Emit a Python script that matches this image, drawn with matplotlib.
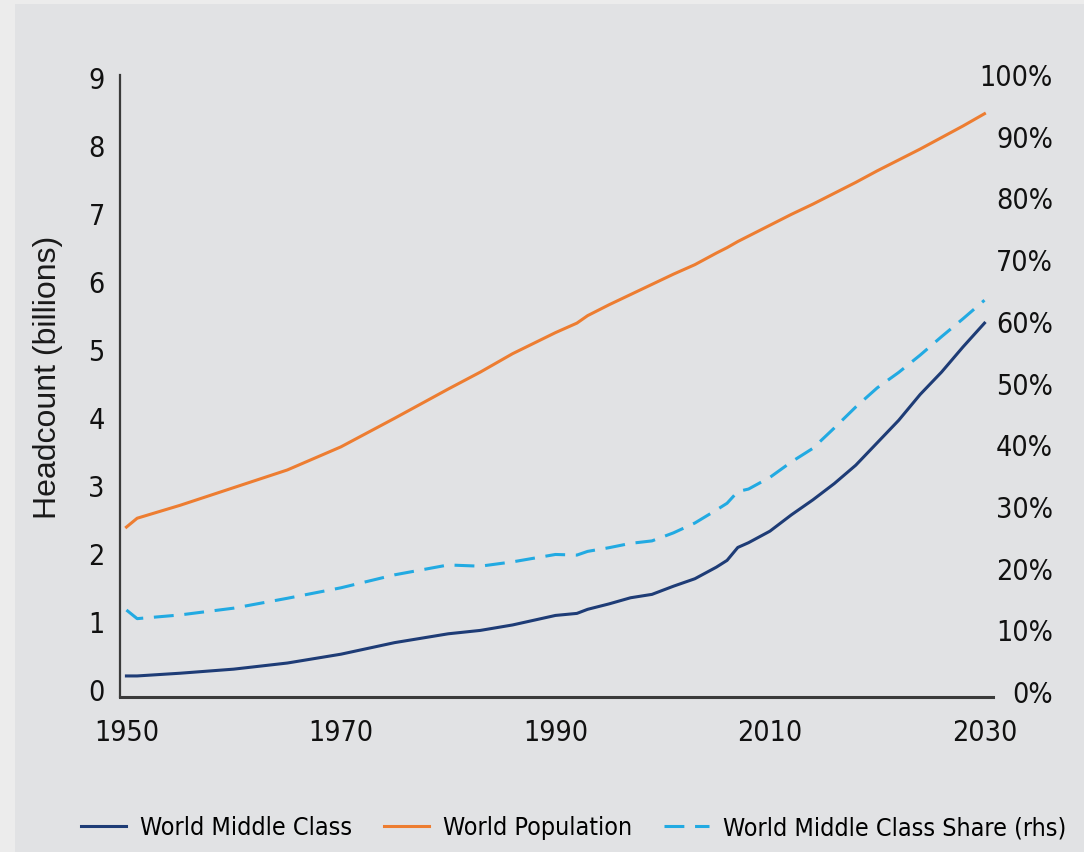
import matplotlib.pyplot as plt
from matplotlib.patches import Rectangle

years = [1950, 1951, 1955, 1960, 1965, 1970, 1975, 1980, 1983, 1986, 1990,
         1992, 1993, 1995, 1997, 1999, 2001, 2003, 2005, 2006, 2007, 2008,
         2010, 2012, 2014, 2016, 2018, 2020, 2022, 2024, 2026, 2028, 2030]

# headcount, billions
middle_class = [0.21, 0.21, 0.25, 0.31, 0.40, 0.53, 0.70, 0.83, 0.88, 0.96, 1.10,
                1.13, 1.19, 1.27, 1.36, 1.41, 1.53, 1.64, 1.81, 1.91, 2.10, 2.17,
                2.34, 2.58, 2.80, 3.04, 3.31, 3.64, 3.97, 4.35, 4.68, 5.05, 5.40]
population = [2.40, 2.53, 2.72, 2.98, 3.24, 3.58, 4.00, 4.43, 4.68, 4.95, 5.26,
              5.40, 5.51, 5.67, 5.82, 5.97, 6.12, 6.26, 6.43, 6.51, 6.60, 6.68,
              6.84, 7.00, 7.15, 7.31, 7.47, 7.64, 7.80, 7.96, 8.13, 8.30, 8.48]
# middle class share of world population, %
share = [13.3, 11.9, 12.5, 13.6, 15.2, 16.9, 19.0, 20.6, 20.4, 21.1, 22.3,
         22.2, 22.8, 23.4, 24.1, 24.5, 25.8, 27.4, 29.5, 30.6, 32.5, 32.9,
         34.8, 37.3, 39.5, 42.8, 46.2, 49.3, 51.8, 54.6, 57.6, 60.5, 63.5]

x_ticks = [1950, 1970, 1990, 2010, 2030]
left_ticks = list(range(0, 10))
right_ticks = list(range(0, 101, 10))

plt.rcParams['font.family'] = ['DejaVu Sans']
plt.rcParams['font.stretch'] = 'condensed'

fig = plt.figure(figsize=(10.84, 8.52), dpi=100, facecolor='#ececec')
fig.patches.append(Rectangle((15 / 1084, 0), 1, 1 - 4 / 852, transform=fig.transFigure,
                             facecolor='#e1e2e4', edgecolor='none', zorder=-1))

ax = fig.add_axes([0.1107, 0.1819, 0.8054, 0.7301])
ax.set_facecolor('none')
ax2 = ax.twinx()

l1, = ax.plot(years, middle_class, color='#1e3c76', lw=2.2, label='World Middle Class')
l2, = ax.plot(years, population, color='#ed7d31', lw=2.2, label='World Population')
l3, = ax2.plot(years, share, color='#22aae2', lw=2.2, linestyle=(0, (6.5, 3.5)),
               label='World Middle Class Share (rhs)')

ax.set_xlim(1949.4, 2030.8)
ax.set_ylim(-0.1, 9.05)
ax2.set_ylim(-0.8, 100)

ax.set_xticks(x_ticks)
ax.set_yticks(left_ticks)
ax2.set_yticks(right_ticks)
ax2.set_yticklabels([f'{v}%' for v in right_ticks])

for a in (ax, ax2):
    a.spines['top'].set_visible(False)
    a.spines['right'].set_visible(False)
ax2.spines['left'].set_visible(False)
ax2.spines['bottom'].set_visible(False)
ax.spines['left'].set_color('#3a3a3a')
ax.spines['bottom'].set_color('#3a3a3a')
ax.spines['left'].set_linewidth(1.6)
ax.spines['bottom'].set_linewidth(2.2)

ax.tick_params(axis='x', length=0, pad=16, labelsize=20.5, labelcolor='#111111')
ax.tick_params(axis='y', length=0, pad=11, labelsize=20.5, labelcolor='#111111')
ax2.tick_params(axis='y', length=0, pad=43, labelsize=20.5, labelcolor='#111111')
for lab in ax2.get_yticklabels():
    lab.set_horizontalalignment('right')

ax.set_ylabel('Headcount (billions)', family=['Liberation Sans', 'DejaVu Sans'],
              fontstretch='normal', fontsize=23, color='#1a1a1a', labelpad=18)
ax.yaxis.label.set_y(0.514)

fig.legend(handles=[l1, l2, l3], loc='center', bbox_to_anchor=(0.529, 0.028),
           ncol=3, frameon=False, fontsize=18, handlelength=1.8, handletextpad=0.56,
           columnspacing=1.28)

fig.savefig('out.png', dpi=100, facecolor=fig.get_facecolor())
